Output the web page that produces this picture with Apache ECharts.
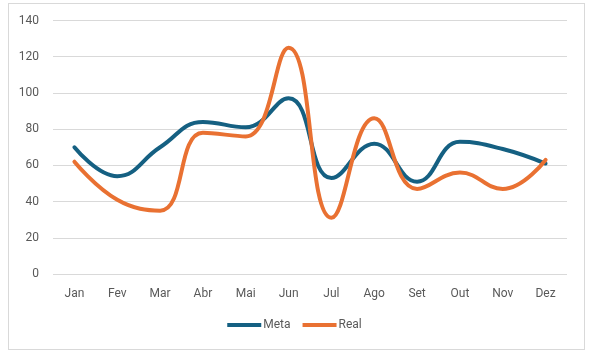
<!DOCTYPE html>
<html>
<head>
<meta charset="utf-8">
<script src="https://cdn.jsdelivr.net/npm/echarts@6/dist/echarts.min.js"></script>
<style>
  html, body { margin: 0; padding: 0; background: #fff; }
  #box {
    position: absolute; left: 8px; top: 3px;
    width: 575px; height: 345px;
    border: 1px solid #d9d9d9;
  }
  #chart { position: absolute; left: 0; top: 0; width: 589px; height: 354px; }
</style>
</head>
<body>
<div id="box"></div>
<div id="chart"></div>
<script>
// dados
const meses = ['Jan', 'Fev', 'Mar', 'Abr', 'Mai', 'Jun', 'Jul', 'Ago', 'Set', 'Out', 'Nov', 'Dez']
const meta = [70, 54, 70, 84, 81, 97, 53, 72, 51, 73, 69, 61]
const real = [62, 41, 35, 78, 76, 125, 31, 86, 47, 56, 47, 63]

const fonte = 'Roboto, "Open Sans", sans-serif'
const chart = echarts.init(document.getElementById('chart'))
chart.setOption({
  animation: false,
  textStyle: { fontFamily: fonte },
  grid: { left: 53, right: 22, top: 20.5, bottom: 80 },
  legend: {
    bottom: 18,
    left: 'center',
    itemWidth: 34,
    itemHeight: 4,
    itemGap: 12,
    icon: 'rect',
    textStyle: { color: '#595959', fontSize: 12, padding: [0, 0, 0, -3] },
    data: ['Meta', 'Real']
  },
  xAxis: {
    type: 'category',
    data: meses,
    boundaryGap: true,
    axisLine: { show: false },
    axisTick: { show: false },
    axisLabel: { color: '#595959', fontSize: 12, margin: 14 }
  },
  yAxis: {
    type: 'value',
    min: 0,
    max: 140,
    interval: 20,
    axisLine: { show: false },
    axisTick: { show: false },
    axisLabel: { color: '#595959', fontSize: 12, margin: 14 },
    splitLine: { lineStyle: { color: '#d9d9d9', width: 1 } }
  },
  series: [
    {
      name: 'Meta',
      type: 'line',
      data: meta,
      smooth: 0.45,
      symbol: 'none',
      itemStyle: { color: '#156082' },
      lineStyle: { color: '#156082', width: 4, cap: 'round' }
    },
    {
      name: 'Real',
      type: 'line',
      data: real,
      smooth: 0.45,
      symbol: 'none',
      itemStyle: { color: '#E97132' },
      lineStyle: { color: '#E97132', width: 4, cap: 'round' }
    }
  ]
})
</script>
</body>
</html>
